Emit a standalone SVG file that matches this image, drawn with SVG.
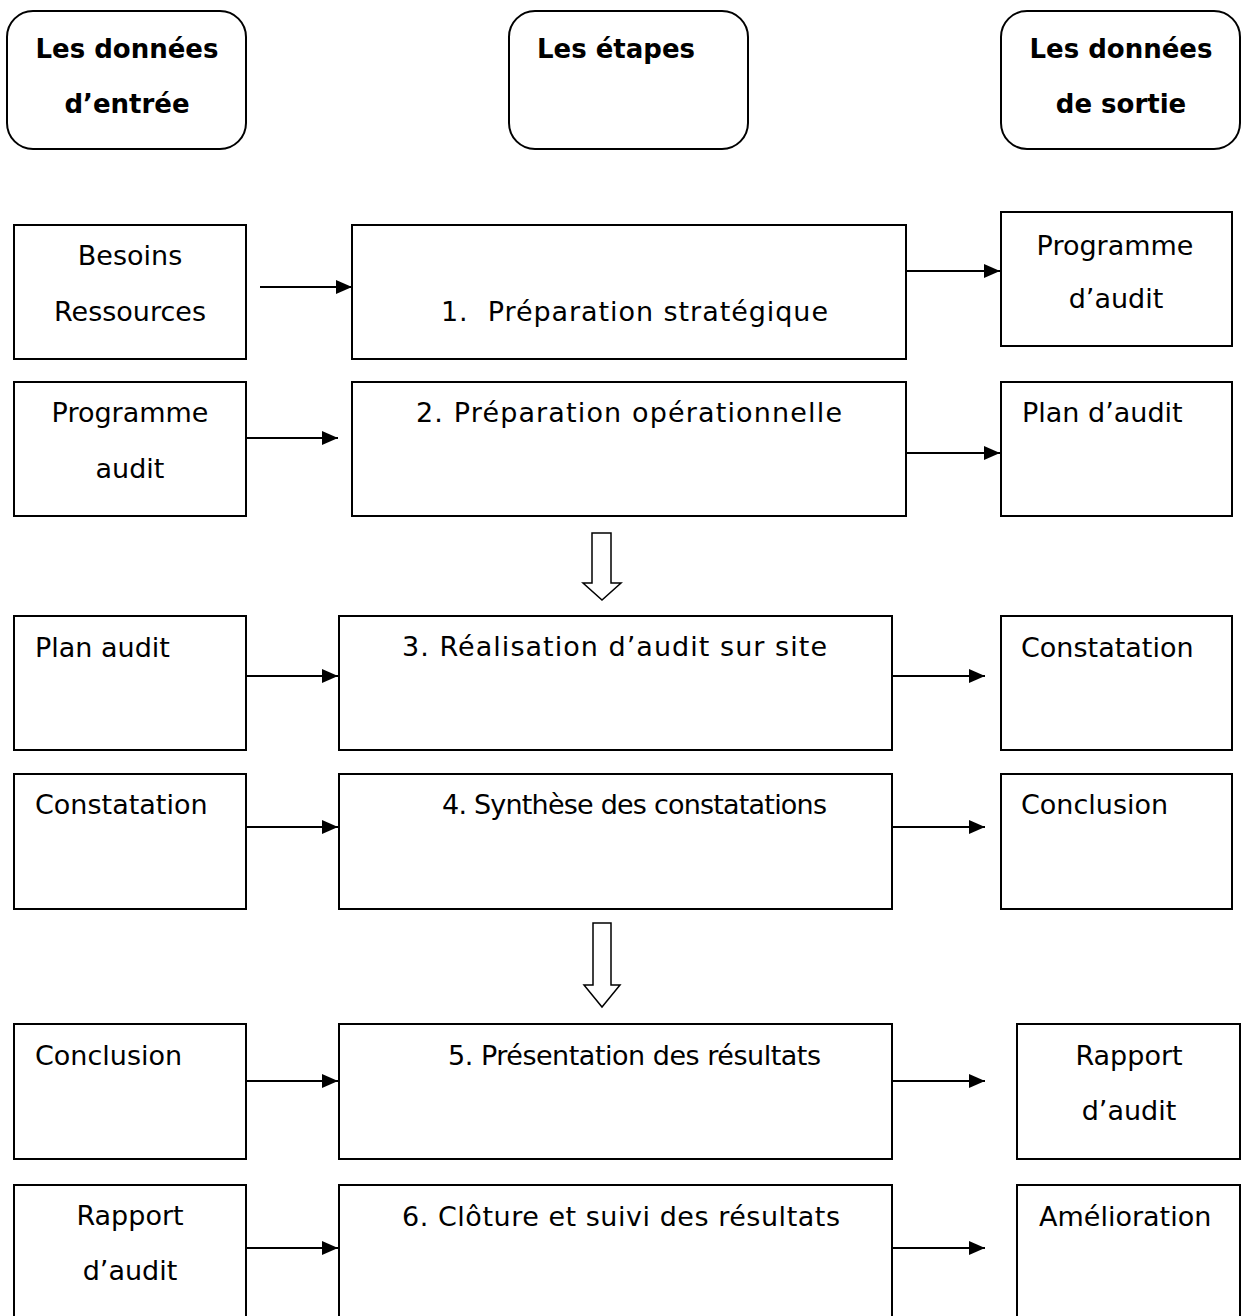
<svg xmlns="http://www.w3.org/2000/svg" width="1246" height="1316" viewBox="0 0 1246 1316">
<style>
.box{fill:#fff;stroke:#000;stroke-width:2}
.t{font-family:"DejaVu Sans",Verdana,sans-serif;font-size:27px;fill:#000}
.h{font-family:"DejaVu Sans","Liberation Sans",sans-serif;font-size:26px;font-weight:bold;fill:#000}
.c{text-anchor:middle}
.ln{stroke:#000;stroke-width:2;fill:none}
.blk{fill:#fff;stroke:#000;stroke-width:1.5;stroke-linejoin:miter}
</style>
<defs>
<marker id="ah" markerUnits="userSpaceOnUse" markerWidth="17" markerHeight="16" refX="16" refY="8" orient="auto">
<path d="M0,1 L16,8 L0,15 z" fill="#000"/>
</marker>
</defs>
<rect width="1246" height="1316" fill="#fff"/>

<g id="header-entree">
<rect class="box" x="7" y="11" width="239" height="138" rx="26"/>
<text class="h c" x="127" y="58">Les données</text>
<text class="h c" x="127" y="113">d’entrée</text>
</g>
<g id="header-etapes">
<rect class="box" x="509" y="11" width="239" height="138" rx="26"/>
<text class="h" x="537" y="58">Les étapes</text>
</g>
<g id="header-sortie">
<rect class="box" x="1001" y="11" width="239" height="138" rx="26"/>
<text class="h c" x="1121" y="58">Les données</text>
<text class="h c" x="1121" y="113">de sortie</text>
</g>

<g id="in1">
<rect class="box" x="14" y="225" width="232" height="134"/>
<text class="t c" x="130" y="265">Besoins</text>
<text class="t c" x="130" y="321">Ressources</text>
</g>
<g id="step1">
<rect class="box" x="352" y="225" width="554" height="134"/>
<text class="t" x="441" y="321" textLength="387" xml:space="preserve">1.  Préparation stratégique</text>
</g>
<g id="out1">
<rect class="box" x="1001" y="212" width="231" height="134"/>
<text class="t c" x="1115" y="255">Programme</text>
<text class="t c" x="1116" y="308">d’audit</text>
</g>

<g id="in2">
<rect class="box" x="14" y="382" width="232" height="134"/>
<text class="t c" x="130" y="422">Programme</text>
<text class="t c" x="130" y="478">audit</text>
</g>
<g id="step2">
<rect class="box" x="352" y="382" width="554" height="134"/>
<text class="t" x="416" y="422" textLength="426">2. Préparation opérationnelle</text>
</g>
<g id="out2">
<rect class="box" x="1001" y="382" width="231" height="134"/>
<text class="t" x="1022" y="422">Plan d’audit</text>
</g>

<g id="in3">
<rect class="box" x="14" y="616" width="232" height="134"/>
<text class="t" x="35" y="657">Plan audit</text>
</g>
<g id="step3">
<rect class="box" x="339" y="616" width="553" height="134"/>
<text class="t" x="402" y="656" textLength="425">3. Réalisation d’audit sur site</text>
</g>
<g id="out3">
<rect class="box" x="1001" y="616" width="231" height="134"/>
<text class="t" x="1021" y="657">Constatation</text>
</g>

<g id="in4">
<rect class="box" x="14" y="774" width="232" height="135"/>
<text class="t" x="35" y="814">Constatation</text>
</g>
<g id="step4">
<rect class="box" x="339" y="774" width="553" height="135"/>
<text class="t" x="442" y="814" textLength="385">4. Synthèse des constatations</text>
</g>
<g id="out4">
<rect class="box" x="1001" y="774" width="231" height="135"/>
<text class="t" x="1021" y="814">Conclusion</text>
</g>

<g id="in5">
<rect class="box" x="14" y="1024" width="232" height="135"/>
<text class="t" x="35" y="1065">Conclusion</text>
</g>
<g id="step5">
<rect class="box" x="339" y="1024" width="553" height="135"/>
<text class="t" x="448" y="1065" textLength="373">5. Présentation des résultats</text>
</g>
<g id="out5">
<rect class="box" x="1017" y="1024" width="223" height="135"/>
<text class="t c" x="1129" y="1065">Rapport</text>
<text class="t c" x="1129" y="1120">d’audit</text>
</g>

<g id="in6">
<rect class="box" x="14" y="1185" width="232" height="140"/>
<text class="t c" x="130" y="1225">Rapport</text>
<text class="t c" x="130" y="1280">d’audit</text>
</g>
<g id="step6">
<rect class="box" x="339" y="1185" width="553" height="140"/>
<text class="t" x="402" y="1226" textLength="438">6. Clôture et suivi des résultats</text>
</g>
<g id="out6">
<rect class="box" x="1017" y="1185" width="223" height="140"/>
<text class="t" x="1039" y="1226">Amélioration</text>
</g>

<g id="connectors">
<line class="ln" x1="260" y1="287" x2="352" y2="287" marker-end="url(#ah)"/>
<line class="ln" x1="906" y1="271" x2="1000" y2="271" marker-end="url(#ah)"/>
<line class="ln" x1="246" y1="438" x2="338" y2="438" marker-end="url(#ah)"/>
<line class="ln" x1="906" y1="453" x2="1000" y2="453" marker-end="url(#ah)"/>
<line class="ln" x1="246" y1="676" x2="338" y2="676" marker-end="url(#ah)"/>
<line class="ln" x1="892" y1="676" x2="985" y2="676" marker-end="url(#ah)"/>
<line class="ln" x1="246" y1="827" x2="338" y2="827" marker-end="url(#ah)"/>
<line class="ln" x1="892" y1="827" x2="985" y2="827" marker-end="url(#ah)"/>
<line class="ln" x1="246" y1="1081" x2="338" y2="1081" marker-end="url(#ah)"/>
<line class="ln" x1="892" y1="1081" x2="985" y2="1081" marker-end="url(#ah)"/>
<line class="ln" x1="246" y1="1248" x2="338" y2="1248" marker-end="url(#ah)"/>
<line class="ln" x1="892" y1="1248" x2="985" y2="1248" marker-end="url(#ah)"/>
<path class="blk" d="M592,533 L611,533 L611,583 L621,583 L602,600 L583,583 L592,583 Z"/>
<path class="blk" d="M593,923 L611,923 L611,985 L620,985 L602,1007 L584,985 L593,985 Z"/>
</g>
</svg>
